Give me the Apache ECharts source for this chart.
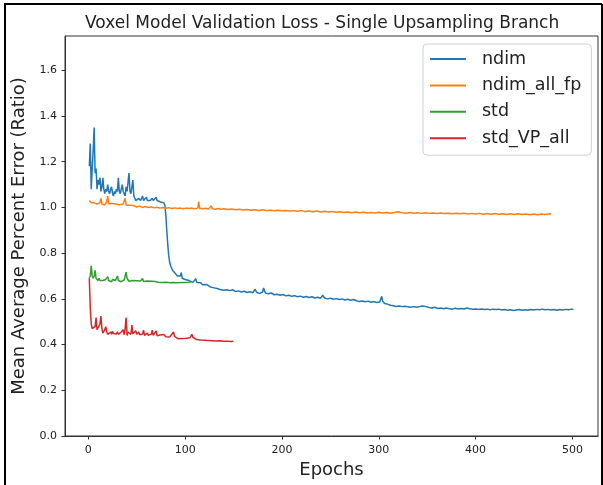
<!DOCTYPE html>
<html>
<head>
<meta charset="utf-8">
<script src="https://cdn.jsdelivr.net/npm/echarts@6/dist/echarts.min.js"></script>
<style>
  html, body { margin: 0; padding: 0; background: #fff; }
  #chart { width: 603px; height: 485px; }
</style>
</head>
<body>
<div id="chart"></div>
<script>
// tick labels
const xTicks = [0, 100, 200, 300, 400, 500];
const yTicks = [0, 0.2, 0.4, 0.6, 0.8, 1.0, 1.2, 1.4, 1.6];

// ndim
const ndimEpochs = [1,2,3,4,5,6,7,8,9,10,11,12,13,14,15,16,17,18,19,20,21,22,23,24,25,26,27,28,29,30,
  31,32,33,34,35,36,37,38,39,40,41,42,43,44,45,46,47,48,49,50,52,54,56,57,58,60,61,63,64,66,67,68,70,71,72,74,76,78,79,
  80,81,82,83,84,85,86,87,88,89,90,92,94,95,96,97,99,100,102,104,106,108,110,111,112,114,116,118,120,122,124,126,128,130,
  133,136,138,140,143,146,149,152,155,158,161,164,167,170,172,174,177,180,181,183,186,189,192,195,198,201,204,207,210,
  213,216,219,222,225,228,231,234,237,240,242,244,247,250,253,256,259,262,265,268,271,274,277,280,283,286,289,292,295,
  298,301,303,304,306,309,312,315,318,321,324,327,330,333,336,339,342,345,347,349,352,355,358,361,364,367,370,373,376,
  379,382,385,388,391,394,397,400,403,406,409,412,415,418,421,424,427,430,433,436,439,442,445,448,451,454,457,460,463,
  466,469,472,475,478,481,484,487,490,493,496,499,501];
const ndimLoss = [1.18,1.28,1.08,1.17,1.25,1.35,1.15,1.17,1.08,1.12,1.10,1.13,1.07,1.09,1.13,1.08,1.06,1.08,1.07,1.10,
  1.07,1.06,1.08,1.09,1.06,1.05,1.07,1.06,1.08,1.07,1.13,1.07,1.06,1.08,1.10,1.07,1.06,1.05,1.09,1.07,1.11,1.15,1.07,1.06,
  1.09,1.12,1.05,1.04,1.03,1.03,1.04,1.03,1.05,1.03,1.03,1.045,1.03,1.035,1.03,1.04,1.03,1.03,1.045,1.03,1.035,1.025,1.025,
  1.02,1.01,0.97,0.90,0.84,0.79,0.76,0.745,0.735,0.725,0.72,0.715,0.71,0.70,0.695,0.70,0.715,0.69,0.69,0.685,0.688,0.68,
  0.676,0.672,0.675,0.688,0.672,0.668,0.671,0.662,0.66,0.663,0.655,0.652,0.656,0.648,0.645,0.641,0.646,0.638,0.64,0.636,
  0.64,0.632,0.635,0.63,0.633,0.628,0.631,0.627,0.642,0.628,0.624,0.63,0.648,0.625,0.622,0.626,0.618,0.62,0.616,0.619,
  0.613,0.616,0.611,0.614,0.609,0.612,0.607,0.61,0.606,0.609,0.604,0.607,0.603,0.616,0.604,0.6,0.603,0.598,0.601,0.597,
  0.6,0.595,0.598,0.594,0.597,0.592,0.588,0.591,0.587,0.59,0.585,0.588,0.584,0.586,0.611,0.59,0.58,0.577,0.572,0.57,0.567,
  0.569,0.566,0.568,0.565,0.563,0.566,0.563,0.566,0.569,0.575,0.566,0.562,0.56,0.563,0.558,0.56,0.557,0.56,0.557,0.555,
  0.559,0.556,0.558,0.556,0.56,0.557,0.555,0.556,0.554,0.556,0.553,0.555,0.552,0.555,0.553,0.555,0.551,0.553,0.55,0.552,
  0.549,0.551,0.553,0.55,0.552,0.55,0.553,0.551,0.554,0.552,0.555,0.552,0.554,0.551,0.553,0.55,0.553,0.551,0.554,0.552,
  0.555,0.553];

// ndim_all_fp
const fpEpochs = [1,2,3,4,5,6,7,8,9,10,11,12,13,14,15,16,17,18,19,20,21,22,24,26,28,30,32,34,36,38,39,41,43,45,47,50,53,
  56,59,62,65,68,71,74,77,80,83,86,89,92,95,98,101,104,107,110,113,114,115,118,121,124,127,128,131,134,137,140,144,148,
  152,156,160,164,168,172,176,180,184,188,192,196,200,204,208,212,216,220,224,228,232,236,240,244,248,252,256,260,264,
  268,272,276,280,284,288,292,296,300,304,308,312,316,320,322,324,328,332,336,340,344,348,352,356,360,364,368,372,376,
  380,384,388,392,396,400,404,408,412,416,420,424,428,432,436,440,444,448,452,456,460,464,468,472,476,478];
const fpLoss = [1.03,1.025,1.02,1.028,1.015,1.02,1.012,1.022,1.015,1.018,1.01,1.02,1.04,1.015,1.012,1.02,1.01,1.015,1.025,
  1.05,1.015,1.01,1.018,1.01,1.015,1.008,1.012,1.005,1.015,1.04,1.01,1.005,1.01,1.003,1.008,1.002,1.006,1.0,1.004,0.999,
  1.003,0.998,1.001,0.997,1.0,0.996,0.999,0.995,0.998,0.995,0.997,0.994,0.997,0.995,0.997,0.994,0.997,1.025,0.996,0.994,
  0.996,0.993,1.006,0.994,0.992,0.995,0.992,0.994,0.991,0.993,0.99,0.992,0.989,0.991,0.988,0.99,0.987,0.99,0.986,0.988,
  0.985,0.988,0.985,0.987,0.984,0.986,0.983,0.986,0.982,0.984,0.981,0.984,0.98,0.983,0.98,0.982,0.979,0.981,0.978,0.98,
  0.977,0.98,0.977,0.979,0.976,0.978,0.976,0.979,0.976,0.978,0.975,0.978,0.981,0.983,0.977,0.975,0.978,0.975,0.977,0.974,
  0.977,0.974,0.976,0.973,0.976,0.973,0.975,0.972,0.975,0.972,0.975,0.971,0.974,0.971,0.974,0.97,0.973,0.97,0.973,0.97,
  0.972,0.969,0.972,0.969,0.972,0.969,0.971,0.968,0.971,0.968,0.971,0.969,0.972,0.971];

// std
const stdEpochs = [1,2,3,4,5,6,7,8,9,10,11,12,13,14,15,16,17,18,19,20,21,22,23,24,25,26,27,28,29,30,31,32,33,34,35,36,
  37,38,39,40,41,42,43,44,46,48,50,52,54,56,57,59,61,63,65,67,69,71,72,74,76,78,80,82,84,86,88,90,92,94,96,98,100,102,104,106];
const stdLoss = [0.69,0.70,0.745,0.70,0.69,0.70,0.725,0.69,0.685,0.68,0.69,0.68,0.685,0.678,0.68,0.676,0.68,0.685,0.678,
  0.697,0.68,0.676,0.68,0.675,0.685,0.69,0.678,0.68,0.688,0.70,0.68,0.676,0.682,0.675,0.68,0.676,0.683,0.69,0.717,0.69,
  0.682,0.677,0.68,0.675,0.68,0.676,0.679,0.674,0.678,0.689,0.676,0.674,0.678,0.673,0.677,0.674,0.676,0.683,0.673,0.675,
  0.672,0.676,0.673,0.675,0.671,0.674,0.672,0.675,0.671,0.674,0.672,0.675,0.672,0.675,0.673,0.675];

// std_VP_all
const vpEpochs = [1,2,3,4,5,6,7,8,9,10,11,12,13,14,15,16,17,18,19,20,21,22,23,24,25,26,27,28,29,30,31,32,33,34,35,36,
  37,38,39,40,41,42,43,44,45,46,47,48,49,50,51,52,53,54,55,56,57,58,59,60,61,62,63,64,65,66,67,68,69,70,71,72,74,76,78,
  80,82,84,86,88,89,91,93,95,97,99,101,103,105,107,108,110,112,114,116,118,120,122,124,126,128,130,132,134,136,138,140,
  142,144,146,148,150];
const vpLoss = [0.69,0.56,0.49,0.47,0.462,0.47,0.48,0.518,0.465,0.458,0.47,0.49,0.525,0.47,0.45,0.455,0.465,0.478,0.455,
  0.445,0.452,0.447,0.455,0.445,0.458,0.448,0.444,0.452,0.446,0.456,0.445,0.45,0.442,0.455,0.447,0.465,0.443,0.47,0.518,
  0.44,0.455,0.448,0.462,0.445,0.485,0.447,0.455,0.442,0.46,0.445,0.44,0.455,0.443,0.45,0.44,0.446,0.463,0.44,0.448,0.438,
  0.45,0.44,0.445,0.438,0.446,0.463,0.44,0.436,0.445,0.46,0.438,0.435,0.442,0.436,0.444,0.434,0.44,0.433,0.44,0.455,0.436,
  0.43,0.425,0.422,0.427,0.423,0.428,0.424,0.43,0.445,0.432,0.426,0.422,0.428,0.42,0.425,0.419,0.424,0.418,0.423,0.417,
  0.422,0.416,0.421,0.417,0.42,0.415,0.419,0.414,0.418,0.413,0.415];

const zip = (xs, ys) => xs.map((x, i) => [x, ys[i]]);

const font = 'DejaVu Sans';
const chart = echarts.init(document.getElementById('chart'));

function lineSeries(name, color, data) {
  return {
    name: name,
    type: 'line',
    data: data,
    showSymbol: false,
    symbol: 'none',
    lineStyle: { color: color, width: 1.5 },
    itemStyle: { color: color },
    animation: false
  };
}

// outer black frame: left, top, right edges only (bottom is cut off in the source)
function edge(x1, y1, x2, y2) {
  return {
    type: 'line',
    shape: { x1: x1, y1: y1, x2: x2, y2: y2 },
    style: { stroke: '#000', lineWidth: 2 },
    silent: true,
    z: 100
  };
}

chart.setOption({
  animation: false,
  title: {
    text: 'Voxel Model Validation Loss - Single Upsampling Branch',
    left: 80,
    top: 10,
    textStyle: { fontFamily: font, fontSize: 17, fontWeight: 'normal', color: '#222' }
  },
  grid: {
    left: 65, right: 5, top: 36, bottom: 49,
    show: true, borderColor: '#333', borderWidth: 1
  },
  legend: {
    orient: 'vertical',
    left: 423,
    top: 44,
    padding: [5, 10, 7, 7],
    itemWidth: 36,
    itemHeight: 2,
    itemGap: 6.4,
    icon: 'rect',
    borderColor: '#d0d0d0',
    borderWidth: 1,
    borderRadius: 4,
    textStyle: { fontFamily: font, fontSize: 17.5, color: '#222', lineHeight: 20, padding: [0, 0, 0, 11] },
    data: ['ndim', 'ndim_all_fp', 'std', 'std_VP_all']
  },
  xAxis: {
    type: 'value',
    min: -24.1,
    max: 526.4,
    name: 'Epochs',
    nameLocation: 'middle',
    nameGap: 22,
    nameTextStyle: { fontFamily: font, fontSize: 18, color: '#222' },
    splitLine: { show: false },
    axisLine: { onZero: false, lineStyle: { color: '#333' } },
    axisTick: { show: true, length: 3.5, inside: false, customValues: xTicks, lineStyle: { color: '#333' } },
    axisLabel: { customValues: xTicks, margin: 9, fontFamily: font, fontSize: 11, color: '#222' }
  },
  yAxis: {
    type: 'value',
    min: 0,
    max: 1.75,
    name: 'Mean Average Percent Error (Ratio)',
    nameLocation: 'middle',
    nameGap: 35,
    nameTextStyle: { fontFamily: font, fontSize: 18, color: '#222' },
    splitLine: { show: false },
    axisLine: { show: true, onZero: false, lineStyle: { color: '#333' } },
    axisTick: { show: true, length: 3.5, customValues: yTicks, lineStyle: { color: '#333' } },
    axisLabel: {
      customValues: yTicks, margin: 8, fontFamily: font, fontSize: 11, color: '#222',
      formatter: v => v.toFixed(1)
    }
  },
  series: [
    lineSeries('ndim', '#1f77b4', zip(ndimEpochs, ndimLoss)),
    lineSeries('ndim_all_fp', '#ff7f0e', zip(fpEpochs, fpLoss)),
    lineSeries('std', '#2ca02c', zip(stdEpochs, stdLoss)),
    lineSeries('std_VP_all', '#d62728', zip(vpEpochs, vpLoss))
  ],
  graphic: [
    edge(5, 4, 5, 485),
    edge(4, 4, 602, 4),
    edge(602, 4, 602, 485)
  ]
});
</script>
</body>
</html>
